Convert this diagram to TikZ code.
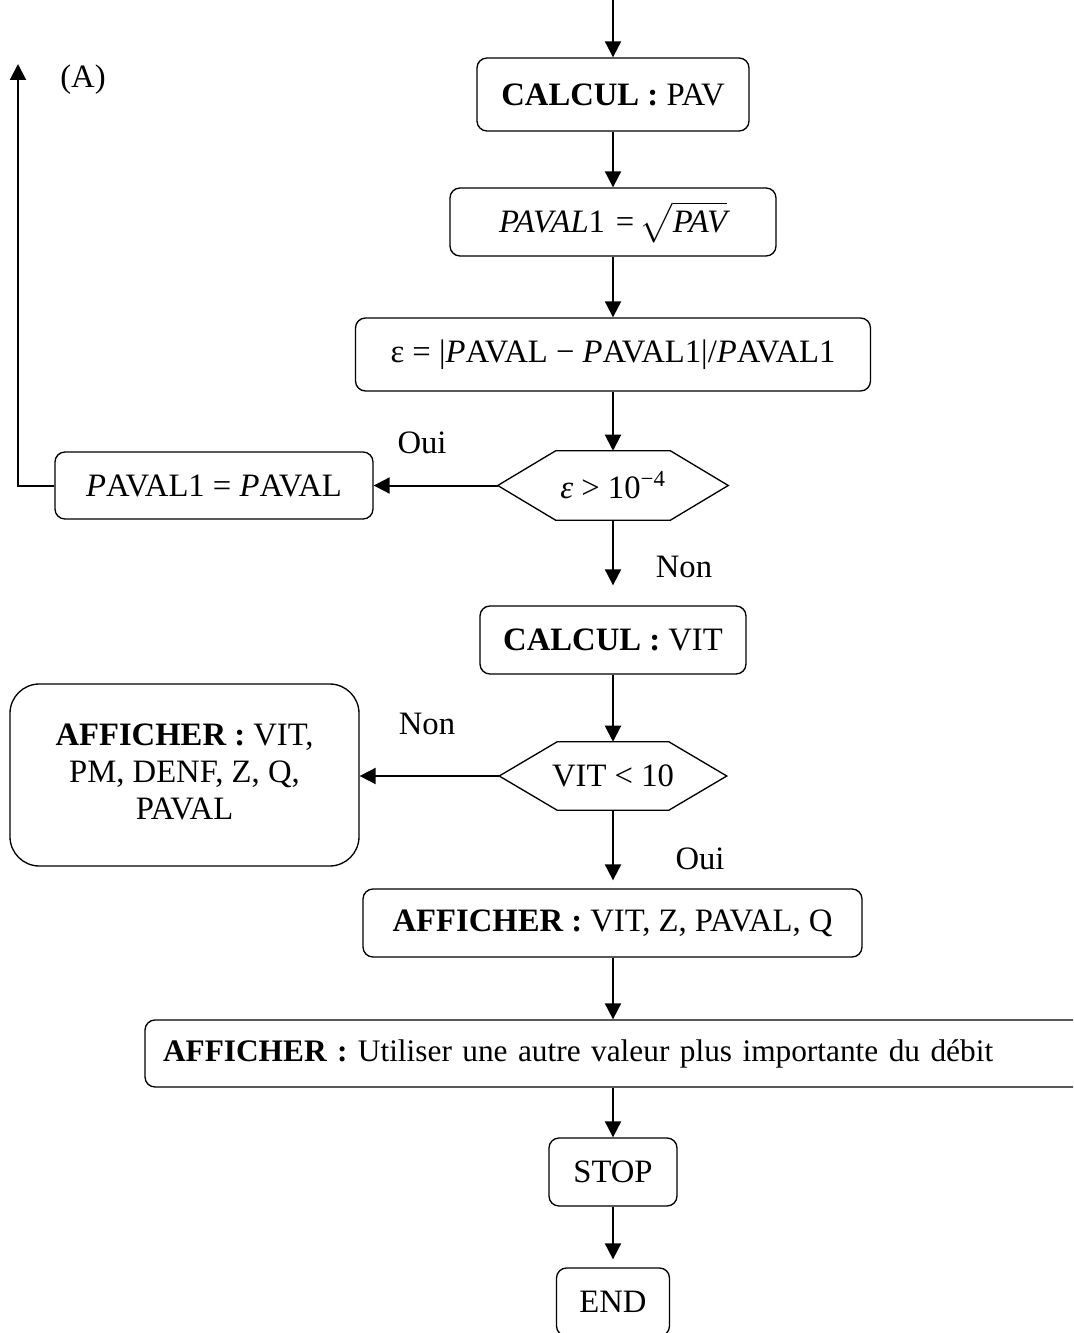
\documentclass[tikz,border=0pt]{standalone}
\usepackage{fontspec}
\setmainfont{Liberation Serif}
\usepackage{amsmath}
\usetikzlibrary{arrows.meta,calc}

% hexagonal decision frame around a borderless node
\newcommand\hexframe[1]{%
  \draw[line width=1pt] (#1.west) -- ($(#1.north west)+(58,0)$) -- ($(#1.north east)+(-58,0)$)
    -- (#1.east) -- ($(#1.south east)+(-58,0)$) -- ($(#1.south west)+(58,0)$) -- cycle;}

\begin{document}
\begin{tikzpicture}[x=0.75pt,y=-0.75pt,
  font=\fontsize{24.5}{28}\selectfont,
  box/.style={draw, line width=1pt, rounded corners=7.5pt, inner sep=0pt, align=center},
  hexbox/.style={inner sep=0pt, align=center},
  flow/.style={-{Triangle[length=12pt,width=12pt]}, line width=1.5pt},
  lbl/.style={inner sep=0pt}]
\path[use as bounding box, clip] (0,0) rectangle (1073,1333);

% main column
\coordinate (start) at (613,0);
\node[box, minimum width=272*0.75pt, minimum height=73*0.75pt] (pav) at (613,94.5) {\textbf{CALCUL :} PAV};
\node[box, minimum width=326*0.75pt, minimum height=68*0.75pt] (sq) at (613,222) {\textit{PAVAL}1\,\,=\,$\sqrt{\mathstrut\textit{PAV}}$};
\node[box, minimum width=515*0.75pt, minimum height=73*0.75pt] (eps) at (613,354.5) {ε = |\textit{P}AVAL − \textit{P}AVAL1|/\textit{P}AVAL1};
\node[hexbox, minimum width=230*0.75pt, minimum height=69*0.75pt] (h1) at (613,485.5) {\textit{ε} > 10\textsuperscript{−4}};
\hexframe{h1}
\node[box, minimum width=266*0.75pt, minimum height=68*0.75pt] (vit) at (613,640) {\textbf{CALCUL :} VIT};
\node[hexbox, minimum width=227*0.75pt, minimum height=68*0.75pt] (h2) at (613,776) {VIT < 10};
\hexframe{h2}
\node[box, minimum width=499*0.75pt, minimum height=68*0.75pt] (aff2) at (612.5,923) {\textbf{AFFICHER :} VIT, Z, PAVAL, Q};
\node[box, minimum height=67*0.75pt, inner xsep=18*0.75pt, text width=904*0.75pt, align=left,
      font=\fontsize{23.5}{28}\selectfont] (aff3) at (615,1053.5)
  {\textbf{AFFICHER :} Utiliser une autre valeur plus importante du débit};
\node[box, minimum width=128*0.75pt, minimum height=68*0.75pt] (stop) at (613,1172) {STOP};
\node[box, minimum width=113*0.75pt, minimum height=68*0.75pt] (end) at (613,1302) {END};

% side branches
\node[box, minimum width=318*0.75pt, minimum height=67*0.75pt] (set) at (214,485.5) {\textit{P}AVAL1 = \textit{P}AVAL};
\coordinate (loopA) at (18,64);
\node[box, rounded corners=22pt, minimum width=349*0.75pt, minimum height=182*0.75pt] (aff1) at (184.5,775)
  {\raisebox{3.75pt}{\begin{tabular}{@{}c@{}}\textbf{AFFICHER :} VIT,\\PM, DENF, Z, Q,\\PAVAL\end{tabular}}};

% labels
\node[lbl] (la) at (83,80) {(A)};
\node[lbl] (oui1) at (422,443) {Oui};
\node[lbl] (non1) at (684,567) {Non};
\node[lbl] (non2) at (427,724) {Non};
\node[lbl] (oui2) at (700,859) {Oui};

% connectors
\draw[flow] (start) -- (pav);
\draw[flow] (pav) -- (sq);
\draw[flow] (sq) -- (eps);
\draw[flow] (eps) -- (h1.north);
\draw[flow] (h1.west) -- (set.east);
\draw[flow] (set.west) -| (loopA);
\draw[flow, shorten >=20*0.75pt] (h1.south) -- (vit.north);
\draw[flow] (vit) -- (h2.north);
\draw[flow] (h2.west) -- (h2.west -| aff1.east);
\draw[flow, shorten >=8*0.75pt] (h2.south) -- (h2.south |- aff2.north);
\draw[flow] (h2.south |- aff2.south) -- (h2.south |- aff3.north);
\draw[flow] (stop.north |- aff3.south) -- (stop.north);
\draw[flow, shorten >=8*0.75pt] (stop) -- (end);
\end{tikzpicture}
\end{document}
